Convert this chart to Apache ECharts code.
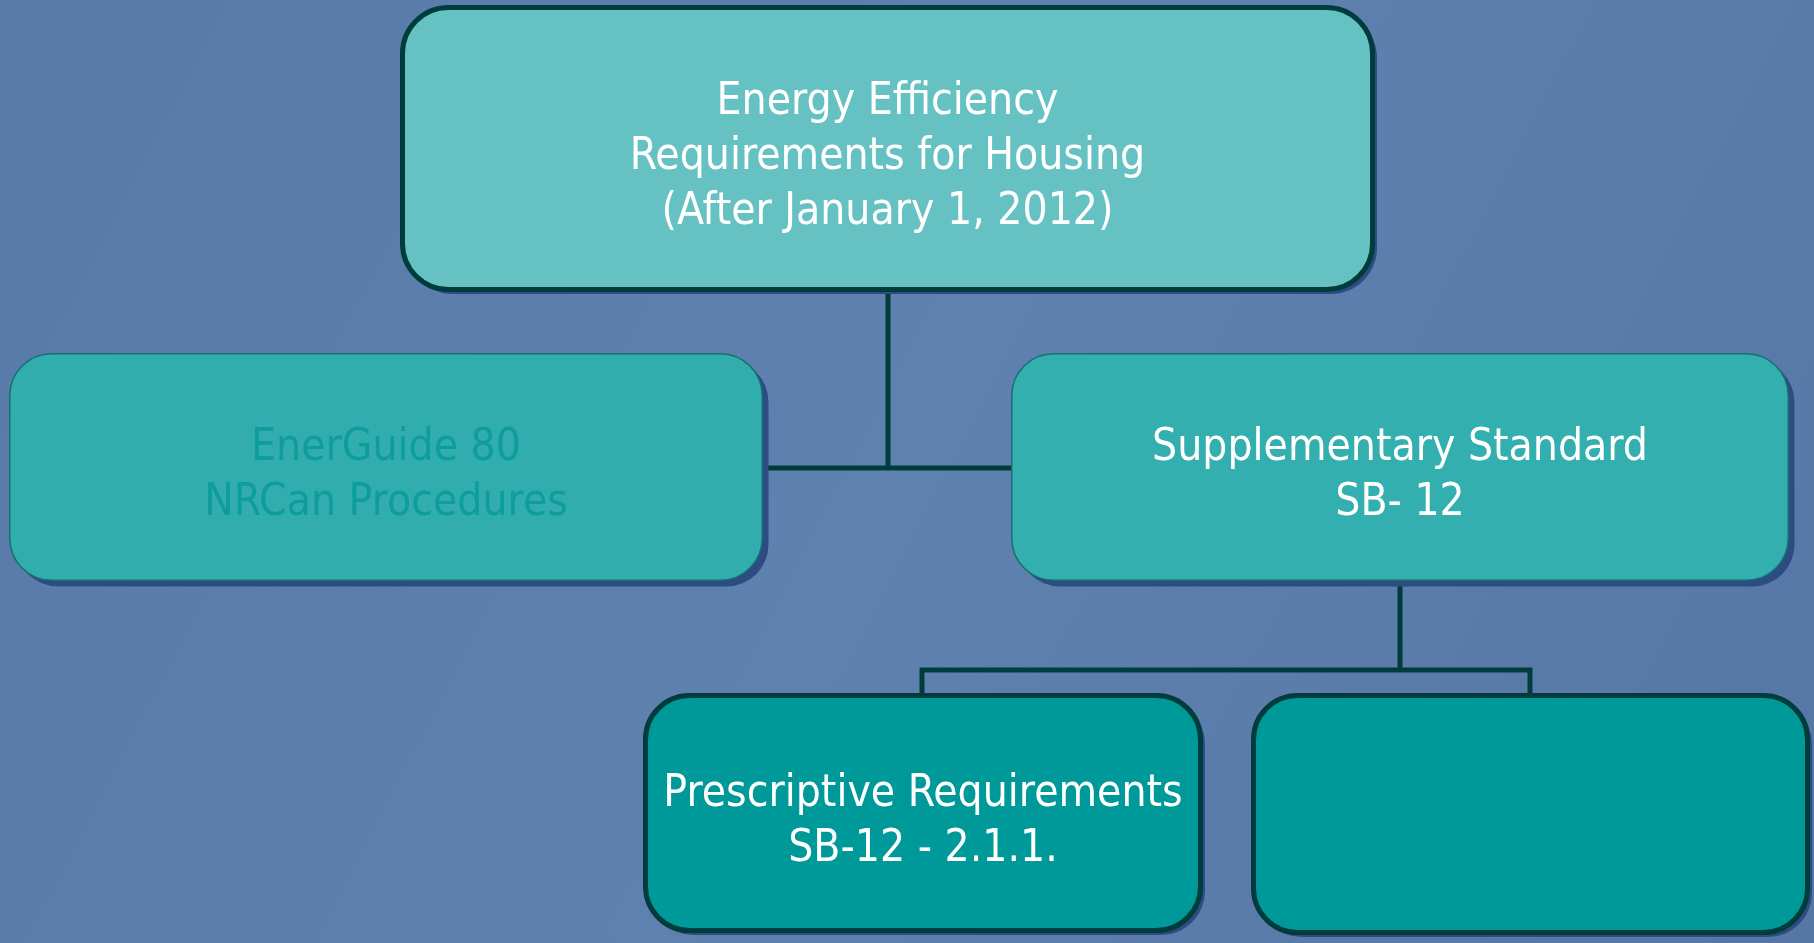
<!DOCTYPE html>
<html>
<head>
<meta charset="utf-8">
<script src="https://cdn.jsdelivr.net/npm/echarts@6/dist/echarts.min.js"></script>
<style>
html,body{margin:0;padding:0;width:100%;height:100%;overflow:hidden;}
#main{width:1814px;height:943px;}
</style>
</head>
<body>
<div id="main"></div>
<script>
// ---- content (data) ----
const nodeLabels = [
  'Energy Efficiency\nRequirements for Housing\n(After January 1, 2012)',
  'EnerGuide 80\nNRCan Procedures',
  'Supplementary Standard\nSB- 12',
  'Prescriptive Requirements\nSB-12 - 2.1.1.',
  ''
];
const nodeParents = [null, 0, 0, 2, 2];

// ---- layout (positions, in page units) ----
const boxRects = [
  [400, 5, 1375, 292],
  [9, 353, 763, 581],
  [1011, 353, 1789, 581],
  [643, 693, 1203, 933],
  [1251, 693, 1810, 935]
];
const connectorPaths = [
  [[888, 292], [888, 468]],
  [[763, 468], [1011, 468]],
  [[1400, 581], [1400, 670]],
  [[922, 693], [922, 670], [1530, 670], [1530, 693]]
];

// ---- styles ----
const boxStyles = [
  {fill: '#66c2c2', stroke: '#003c3c', lw: 5, r: 46, text: '#ffffff'},
  {fill: '#31adad', stroke: '#17706f', lw: 1.5, r: 42, text: '#0e9d9d'},
  {fill: '#33afaf', stroke: '#17706f', lw: 1.5, r: 42, text: '#ffffff'},
  {fill: '#009999', stroke: '#003c3c', lw: 5, r: 44, text: '#ffffff'},
  {fill: '#009999', stroke: '#003c3c', lw: 5, r: 44, text: '#ffffff'}
];
const FONT = "44px 'DejaVu Sans Condensed', 'Liberation Sans Narrow', 'DejaVu Sans', sans-serif";

const chart = echarts.init(document.getElementById('main'), null, {renderer: 'canvas'});

chart.setOption({
  backgroundColor: {
    type: 'linear', x: 0, y: 0, x2: 1, y2: 1,
    colorStops: [
      {offset: 0, color: '#587aa9'},
      {offset: 0.5, color: '#5f81b0'},
      {offset: 1, color: '#5677a6'}
    ]
  },
  animation: false,
  grid: {left: 0, right: 0, top: 0, bottom: 0},
  xAxis: {type: 'value', min: 0, max: 1814, show: false},
  yAxis: {type: 'value', min: 0, max: 943, inverse: true, show: false},
  series: [
    {
      type: 'custom',
      coordinateSystem: 'cartesian2d',
      z: 1,
      data: connectorPaths.map((p, i) => [i]),
      renderItem: function (params, api) {
        const path = connectorPaths[api.value(0)];
        const pts = path.map(pt => api.coord(pt));
        return {
          type: 'polyline',
          shape: {points: pts},
          style: {stroke: '#003c3c', lineWidth: 5, fill: null}
        };
      }
    },
    {
      type: 'custom',
      coordinateSystem: 'cartesian2d',
      z: 2,
      data: nodeLabels.map((l, i) => [i]),
      renderItem: function (params, api) {
        const i = api.value(0);
        const r = boxRects[i];
        const s = boxStyles[i];
        const p0 = api.coord([r[0], r[1]]);
        const p1 = api.coord([r[2], r[3]]);
        const w = p1[0] - p0[0], h = p1[1] - p0[1];
        const half = s.lw / 2;
        return {
          type: 'group',
          children: [
            {
              type: 'rect',
              shape: {x: p0[0] + 7, y: p0[1] + 7, width: w - half * 2, height: h - half * 2, r: s.r},
              style: {fill: '#2d4c82', stroke: null}
            },
            {
              type: 'rect',
              shape: {x: p0[0] + half, y: p0[1] + half, width: w - s.lw, height: h - s.lw, r: s.r},
              style: {fill: s.fill, stroke: s.stroke, lineWidth: s.lw}
            },
            {
              type: 'text',
              x: p0[0] + w / 2,
              y: p0[1] + h / 2 + 9,
              style: {
                text: nodeLabels[i],
                fill: s.text,
                font: FONT,
                lineHeight: 55,
                align: 'center',
                verticalAlign: 'middle',
                textAlign: 'center',
                textVerticalAlign: 'middle'
              }
            }
          ]
        };
      }
    }
  ]
});
</script>
</body>
</html>
